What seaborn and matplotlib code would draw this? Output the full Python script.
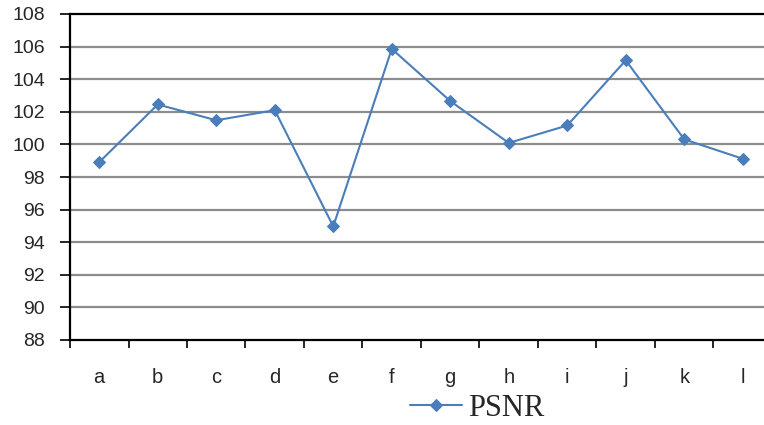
import matplotlib
matplotlib.use("Agg")
import matplotlib.pyplot as plt
import seaborn as sns
import pandas as pd
import numpy as np

categories = ["a", "b", "c", "d", "e", "f", "g", "h", "i", "j", "k", "l"]
psnr = [98.91, 102.45, 101.48, 102.1, 94.97, 105.86, 102.66, 100.09, 101.16, 105.16, 100.31, 99.12]
y_ticks = [88, 90, 92, 94, 96, 98, 100, 102, 104, 106, 108]

sns.set_style("white")
plt.rcParams["font.family"] = ["Liberation Sans", "DejaVu Sans"]

df = pd.DataFrame({"pos": np.arange(len(categories)), "PSNR": psnr})

fig = plt.figure(figsize=(7.64, 4.25), dpi=100)
ax = fig.add_axes([70 / 764, 1 - 340 / 425, 702 / 764, 326 / 425])

sns.lineplot(data=df, x="pos", y="PSNR", ax=ax, color="#4A7EBB", linewidth=1.5,
             marker="D", markersize=6, markeredgecolor="#4A7EBB", label="PSNR")

ax.set_ylim(88, 108)
ax.set_xlim(-0.5, len(categories) - 0.5)
ax.set_yticks(y_ticks)
ax.set_yticklabels([str(t) for t in y_ticks], fontsize=14)
ax.set_xticks(np.arange(len(categories)))
ax.set_xticklabels(categories, fontsize=14.5)
ax.set_xticks(np.arange(len(categories) + 1) - 0.5, minor=True)
ax.tick_params(axis="x", which="major", bottom=True, length=0, pad=20)
ax.tick_params(axis="x", which="minor", bottom=True, length=6, width=1.2,
               color="black", direction="out")
ax.tick_params(axis="y", left=True, length=7, width=1.2, color="black",
               direction="out", pad=11)
ax.set_xlabel("")
ax.set_ylabel("")

for t in y_ticks[1:-1]:
    ax.axhline(t, color="#8C8C8C", linewidth=1.6, zorder=0)

for side in ["left", "bottom", "top"]:
    ax.spines[side].set_color("black")
    ax.spines[side].set_linewidth(1.6)
ax.spines["right"].set_visible(False)

leg = ax.legend(loc="center", bbox_to_anchor=(477 / 764, 1 - 408 / 425),
                bbox_transform=fig.transFigure, frameon=False, handlelength=1.7,
                handletextpad=0.2, borderpad=0, prop={"family": "Liberation Serif", "size": 22})

fig.savefig("out.png", dpi=100)
